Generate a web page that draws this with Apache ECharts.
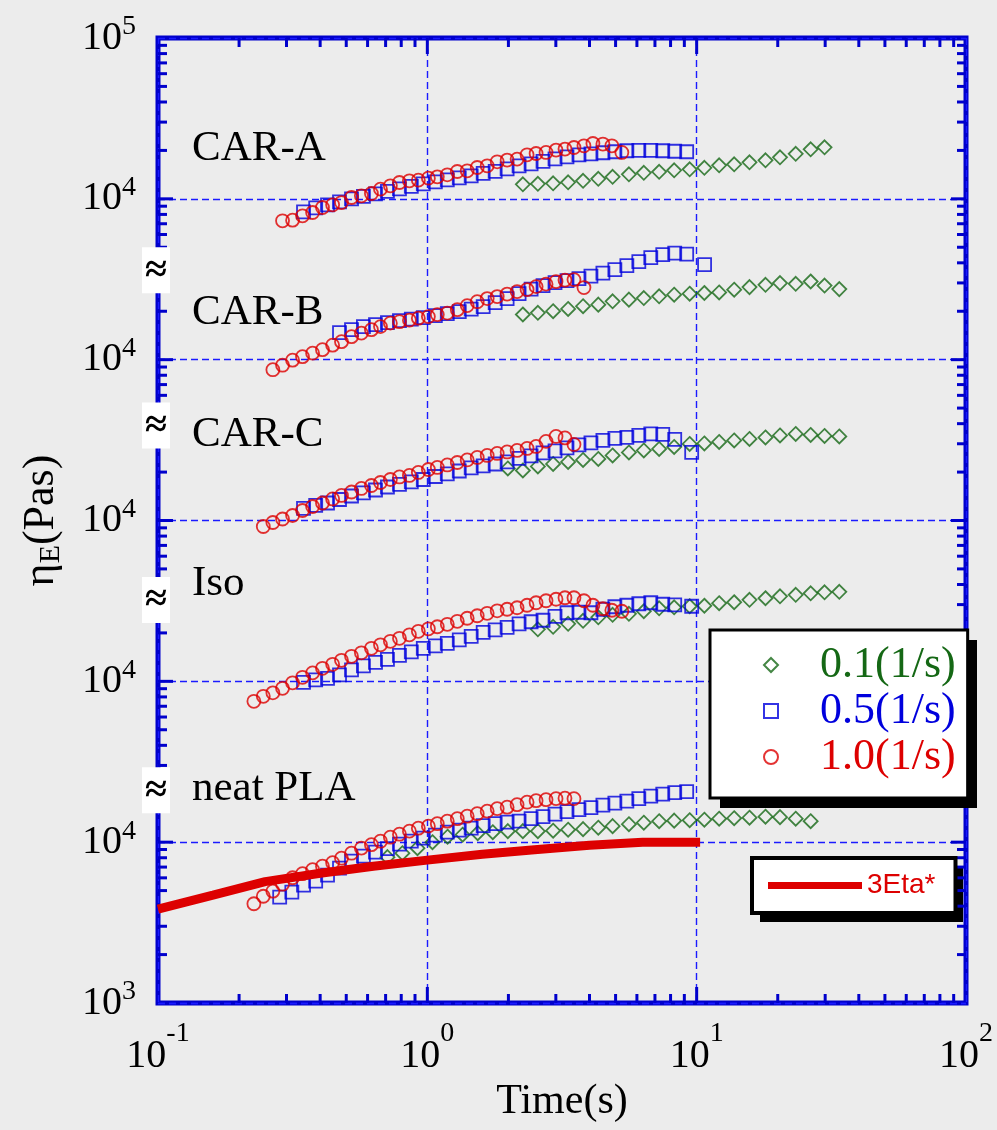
<!DOCTYPE html>
<html><head><meta charset="utf-8">
<script src="https://cdn.jsdelivr.net/npm/echarts@6/dist/echarts.min.js"></script>
<style>html,body{margin:0;padding:0;background:#ececec}#c{width:997px;height:1130px}</style>
</head><body><div id="c"></div>
<script>
// ---------------- data ----------------
const PANELS = ['neat PLA', 'Iso', 'CAR-C', 'CAR-B', 'CAR-A'];
// each panel is stacked one decade above the previous one
const PANEL_SHIFT = [1, 10, 100, 1000, 10000];
const RATE_NAMES = ['0.1(1/s)', '0.5(1/s)', '1.0(1/s)'];
const ETA_NAME = '3Eta*';
const X_TICK_EXP = ['-1', '0', '1', '2'];            // 0.1 .. 100
const Y_TICK_EXP = ['3', '4', '4', '4', '4', '4', '5']; // stacked decades

// sampling times (s)
const T_RED = [0.227, 0.246, 0.267, 0.290, 0.316, 0.344, 0.375, 0.408, 0.445, 0.480, 0.523, 0.569, 0.620, 0.670, 0.729, 0.788, 0.858, 0.926, 1.009, 1.089, 1.186, 1.292, 1.406, 1.532, 1.668, 1.817, 1.978, 2.154, 2.346, 2.534, 2.759, 3.005, 3.244, 3.503, 3.815, 4.119, 4.486, 4.843, 5.275];
const T_BLUE = [0.283, 0.314, 0.347, 0.385, 0.426, 0.472, 0.523, 0.579, 0.642, 0.711, 0.788, 0.872, 0.966, 1.071, 1.186, 1.314, 1.455, 1.612, 1.786, 1.978, 2.191, 2.428, 2.689, 2.979, 3.300, 3.656, 4.050, 4.486, 4.969, 5.505, 6.098, 6.755, 7.483, 8.289, 9.182, 9.583, 10.7];
const T_GREEN = [0.711, 0.808, 0.919, 1.045, 1.189, 1.352, 1.538, 1.750, 1.990, 2.263, 2.573, 2.931, 3.332, 3.786, 4.313, 4.874, 5.604, 6.364, 7.256, 8.249, 9.42, 10.68, 12.12, 13.78, 15.71, 18.01, 20.39, 23.32, 26.50, 29.84, 33.85];

// 1.0 (1/s)  eta_E (Pa s)
const RED_NEAT = [4140, 4610, 4960, 5480, 6010, 6370, 6740, 7090, 7460, 7950, 8540, 9180, 9650, 10140, 10740, 11210, 11710, 12220, 12580, 13030, 13510, 14000, 14510, 15040, 15590, 16160, 16510, 17110, 17730, 18120, 18380, 18650, 18780, 18650, null, null, null, null, null];
const RED_ISO = [7510, 8070, 8480, 9050, 9790, 10590, 11290, 12050, 12760, 13510, 14310, 15040, 16050, 16870, 17730, 18520, 19470, 20460, 21220, 21840, 22630, 23620, 24670, 25570, 26490, 27460, 28060, 28670, 29720, 30800, 31700, 32380, 33080, 33080, 31700, 29720, 28260, 27660, 27270];
const RED_CARC = [null, 9180, 9720, 10220, 10740, 11540, 12220, 12850, 13610, 14310, 15040, 15820, 16510, 17230, 17980, 18650, 19060, 19900, 20760, 21370, 22150, 22940, 23790, 24670, 25380, 26120, 26690, 27270, 28060, 28870, 31020, 33320, 32620, 29720, null, null, null, null, null];
const RED_CARB = [null, null, 8660, 9240, 9930, 10440, 10980, 11540, 12310, 12940, 13900, 14620, 15370, 16050, 16870, 17230, 17610, 18120, 18520, 19060, 19470, 20460, 21680, 22940, 23970, 24670, 25570, 26490, 27270, 28450, 29490, 30590, 31240, 31460, 28060, null, null, null, null];
const RED_CARA = [null, null, null, 7300, 7370, 7840, 8220, 8830, 9180, 9480, 10190, 10440, 10790, 11490, 12050, 12630, 12940, 13070, 13450, 13700, 14100, 14790, 14940, 15660, 16050, 16990, 17410, 17660, 18780, 19140, 19420, 20090, 20380, 20860, 21370, 22090, 21900, 21370, 19420];

// 0.5 (1/s)
const BLUE_NEAT = [4550, 4890, 5400, 5720, 6230, 6890, 7620, 8180, 8660, 9110, 9720, 10140, 10590, 11050, 11540, 11880, 12220, 12670, 13030, 13320, 13510, 14000, 14410, 14940, 15480, 15930, 16400, 16990, 17480, 17980, 18650, 19330, 19900, 20320, 20620, null, null];
const BLUE_ISO = [null, null, 9860, 10220, 10440, 10980, 11790, 12490, 13130, 13700, 14510, 15260, 16050, 16630, 17230, 18120, 19060, 20180, 20920, 21680, 22790, 23460, 23970, 25380, 26690, 26880, 26690, 28060, 29080, 29720, 30360, 30800, 30140, 29920, null, 29300, null];
const BLUE_CARC = [null, null, 11880, 12400, 12850, 13510, 14200, 14830, 15480, 16160, 16750, 17360, 17980, 18780, 19470, 20320, 21220, 21840, 22460, 23120, 24310, 25200, 26300, 27070, 28260, 29510, 30360, 31460, 32380, 32850, 33800, 34530, 34290, 31920, null, 26490, null];
const BLUE_CARB = [null, null, null, null, null, 14730, 15370, 16050, 16510, 16990, 17480, 17870, 18250, 18780, 19330, 19900, 20620, 21370, 22630, 23970, 25750, 27460, 28870, 30140, 31020, 31920, 33080, 34530, 36310, 38460, 40730, 43120, 45020, 45990, 45350, null, 39020];
const BLUE_CARA = [null, null, 8300, 8790, 9180, 9580, 10000, 10360, 10740, 11130, 11540, 11960, 12400, 12760, 13130, 13510, 13900, 14410, 14830, 15370, 16050, 16510, 17110, 17730, 18250, 18780, 19060, 19340, 19620, 19900, 20040, 20040, 19900, 19760, 19620, null, null];

// 0.1 (1/s)
const GREEN_NEAT = [8070, 8540, 9180, 10000, 10820, 11130, 11380, 11540, 11710, 11710, 11710, 11790, 11960, 12050, 12310, 12580, 12940, 13220, 13510, 13610, 13700, 13800, 14000, 14100, 14200, 14410, 14310, 14000, 13510, null, null];
const GREEN_ISO = [null, null, null, null, null, null, null, null, null, null, 21070, 21840, 22790, 23790, 25020, 25930, 26300, 27270, 28450, 28870, 29300, 29510, 30590, 31020, 32150, 32850, 33800, 34530, 35280, 35790, 36050];
const GREEN_CARC = [null, null, null, null, null, null, null, null, 21070, 20460, 21680, 22460, 23120, 23790, 24130, 25380, 26490, 27270, 27860, 28670, 29920, 30140, 30800, 31460, 32150, 32850, 33800, 34530, 34050, 33570, 33320];
const GREEN_CARB = [null, null, null, null, null, null, null, null, null, 19090, 19560, 20010, 20680, 21490, 21990, 23060, 23620, 24170, 24770, 25340, 25710, 25970, 26190, 27230, 28260, 29210, 29920, 29630, 30620, 28910, 27460];
const GREEN_CARA = [null, null, null, null, null, null, null, null, null, 12310, 12400, 12490, 12670, 12940, 13320, 13700, 14200, 14510, 14730, 15040, 15260, 15590, 16160, 16400, 16870, 17360, 18120, 19060, 20320, 20920, null];

// 3 * complex viscosity of neat PLA
const T_ETA = [0.1, 0.16, 0.25, 0.4, 0.63, 1.0, 1.6, 2.5, 4.0, 6.3, 10.3];
const ETA3 = [3830, 4680, 5680, 6410, 7090, 7730, 8420, 8980, 9580, 10000, 10000];

const RED_BY_PANEL = [RED_NEAT, RED_ISO, RED_CARC, RED_CARB, RED_CARA];
const BLUE_BY_PANEL = [BLUE_NEAT, BLUE_ISO, BLUE_CARC, BLUE_CARB, BLUE_CARA];
const GREEN_BY_PANEL = [GREEN_NEAT, GREEN_ISO, GREEN_CARC, GREEN_CARB, GREEN_CARA];

// ---------------- style ----------------
const C_RED = '#dd0000', C_BLUE = '#0000dd', C_GREEN = '#156815', C_AXIS = '#0000cc', C_GRID = '#1a1aff';
const SERIF = '"Liberation Serif", "Times New Roman", serif';
const ICON_DIAMOND = 'path://M5,0 L10,5 L5,10 L0,5 Z';
const ICON_SQUARE = 'path://M0,0 L10,0 L10,10 L0,10 Z';
const ICON_CIRCLE = 'path://M0,5 A5,5 0 1,1 10,5 A5,5 0 1,1 0,5 Z';

function pts(T, V, shift) {
  const out = [];
  for (let i = 0; i < T.length; i++) if (V[i] != null) out.push([T[i], V[i] * shift]);
  return out;
}

const series = [];
PANELS.forEach((p, i) => {
  const s = PANEL_SHIFT[i];
  series.push({ type: 'scatter', name: RATE_NAMES[0], data: pts(T_GREEN, GREEN_BY_PANEL[i], s),
    symbol: 'diamond', symbolSize: [14, 14], itemStyle: { color: 'rgba(0,0,0,0)', borderColor: C_GREEN, borderWidth: 1.8 }, z: 2 });
  series.push({ type: 'scatter', name: RATE_NAMES[1], data: pts(T_BLUE, BLUE_BY_PANEL[i], s),
    symbol: 'rect', symbolSize: 13, itemStyle: { color: 'rgba(0,0,0,0)', borderColor: C_BLUE, borderWidth: 1.8 }, z: 2 });
  series.push({ type: 'scatter', name: RATE_NAMES[2], data: pts(T_RED, RED_BY_PANEL[i], s),
    symbol: 'circle', symbolSize: 13, itemStyle: { color: 'rgba(0,0,0,0)', borderColor: C_RED, borderWidth: 1.8 }, z: 2 });
});
series.push({ type: 'line', name: ETA_NAME, data: pts(T_ETA, ETA3, 1), symbol: 'none',
  lineStyle: { color: C_RED, width: 9 }, itemStyle: { color: C_RED }, z: 4 });

// axis ticks (log minor ticks on all four sides)
const tickData = [];
for (let d = 3; d <= 8; d++) for (let k = 1; k <= 9; k++) {
  if (d === 3 && k === 1) continue;
  const v = k * Math.pow(10, d), L = k === 1 ? 15 : 9;
  tickData.push([0.1, v, 0, L]); tickData.push([100, v, 1, L]);
}
for (let d = -1; d <= 1; d++) for (let k = 1; k <= 9; k++) {
  if (d === -1 && k === 1) continue;
  const v = k * Math.pow(10, d), L = k === 1 ? 16 : 9;
  tickData.push([v, 1e9, 3, L]); tickData.push([v, 1e3, 2, L]);
}
series.push({ type: 'custom', name: 'ticks', data: tickData, clip: false, z: 3, silent: true,
  encode: { x: 0, y: 1 },
  renderItem: (params, api) => {
    const p = api.coord([api.value(0), api.value(1)]);
    const side = api.value(2), L = api.value(3);
    let x2 = p[0], y2 = p[1];
    if (side === 0) x2 += L; else if (side === 1) x2 -= L; else if (side === 2) y2 -= L; else y2 += L;
    return { type: 'line', shape: { x1: p[0], y1: p[1], x2: x2, y2: y2 }, style: { stroke: C_AXIS, lineWidth: 3 } };
  } });
// axis break marks between stacked panels
series.push({ type: 'custom', name: 'breaks', data: [[0.1, 3.6e7], [0.1, 3.9e6], [0.1, 3.2e5], [0.1, 2.1e4]],
  clip: false, z: 6, silent: true, encode: { x: 0, y: 1 },
  renderItem: (params, api) => {
    const p = api.coord([api.value(0), api.value(1)]);
    return { type: 'group', children: [
      { type: 'rect', shape: { x: p[0] - 16, y: p[1] - 23, width: 28, height: 46 }, style: { fill: '#ffffff' } },
      { type: 'text', style: { text: '≈', x: p[0] - 2, y: p[1] + 1, align: 'center', verticalAlign: 'middle', font: 'bold 40px ' + SERIF, fill: '#000' } }
    ] };
  } });

const LABEL_Y = [789, 584, 435, 313, 149];

const option = {
  animation: false,
  backgroundColor: '#ececec',
  textStyle: { fontFamily: SERIF },
  grid: { left: 158, right: 31, top: 38, bottom: 127, show: true, borderColor: C_AXIS, borderWidth: 5, backgroundColor: 'transparent' },
  xAxis: {
    type: 'log', logBase: 10, min: 0.1, max: 100, splitNumber: 3,
    name: 'Time(s)', nameLocation: 'middle', nameGap: 62,
    nameTextStyle: { fontFamily: SERIF, fontSize: 42, color: '#000' },
    axisLine: { show: false }, axisTick: { show: false },
    splitLine: { show: true, lineStyle: { color: C_GRID, width: 1.4, type: [7, 4] } },
    axisLabel: { margin: 17, color: '#000',
      formatter: v => '{b|10}{s|' + X_TICK_EXP[Math.round(Math.log10(v)) + 1] + '}',
      rich: { b: { fontFamily: SERIF, fontSize: 40, lineHeight: 56, verticalAlign: 'bottom', color: '#000' },
              s: { fontFamily: SERIF, fontSize: 28, lineHeight: 44, verticalAlign: 'top', color: '#000' } } }
  },
  yAxis: {
    type: 'log', logBase: 10, min: 1e3, max: 1e9, splitNumber: 6,
    name: '{a|η}{e|E}{a|(Pas)}', nameLocation: 'middle', nameGap: 92, nameRotate: 90,
    nameTextStyle: { color: '#000', rich: {
      a: { fontFamily: SERIF, fontSize: 44, lineHeight: 50, color: '#000' },
      e: { fontFamily: SERIF, fontSize: 30, lineHeight: 20, verticalAlign: 'bottom', color: '#000' } } },
    axisLine: { show: false }, axisTick: { show: false },
    splitLine: { show: true, lineStyle: { color: C_GRID, width: 1.4, type: [7, 4] } },
    axisLabel: { margin: 22, color: '#000',
      formatter: v => '{b|10}{s|' + Y_TICK_EXP[Math.round(Math.log10(v)) - 3] + '}',
      rich: { b: { fontFamily: SERIF, fontSize: 40, lineHeight: 50, color: '#000' },
              s: { fontFamily: SERIF, fontSize: 28, lineHeight: 24, verticalAlign: 'top', color: '#000' } } }
  },
  legend: [
    { orient: 'vertical', left: 710, top: 630, padding: [12, 12, 18, 53], itemGap: 0,
      itemWidth: 88, itemHeight: 14, symbolKeepAspect: true, selectedMode: false,
      backgroundColor: '#ffffff', borderColor: '#000', borderWidth: 3,
      textStyle: { fontFamily: SERIF, fontSize: 44, lineHeight: 46 },
      data: [
        { name: RATE_NAMES[0], icon: ICON_DIAMOND, textStyle: { color: C_GREEN } },
        { name: RATE_NAMES[1], icon: ICON_SQUARE, textStyle: { color: C_BLUE } },
        { name: RATE_NAMES[2], icon: ICON_CIRCLE, textStyle: { color: C_RED } }
      ] },
    { orient: 'vertical', left: 752, top: 858, padding: [12, 20, 12, 16], itemWidth: 94, itemHeight: 7,
      symbolKeepAspect: false, selectedMode: false,
      backgroundColor: '#ffffff', borderColor: '#000', borderWidth: 4,
      textStyle: { fontFamily: '"Liberation Sans", Arial, sans-serif', fontSize: 28, lineHeight: 31, color: C_RED },
      data: [{ name: ETA_NAME, icon: 'rect', itemStyle: { color: C_RED } }] }
  ],
  graphic: [
    // drop shadows of the two legend boxes
    { type: 'rect', z: 3, shape: { x: 720, y: 640, width: 257, height: 168 }, style: { fill: '#000' } },
    { type: 'rect', z: 3, shape: { x: 760, y: 867, width: 203, height: 55 }, style: { fill: '#000' } }
  ].concat(PANELS.map((name, i) => ({ type: 'text', x: 192, y: LABEL_Y[i], z: 10,
    style: { text: name, font: '43px ' + SERIF, fill: '#000', verticalAlign: 'middle' } }))),
  series: series
};

const chart = echarts.init(document.getElementById('c'));
chart.setOption(option);
</script>
</body></html>
